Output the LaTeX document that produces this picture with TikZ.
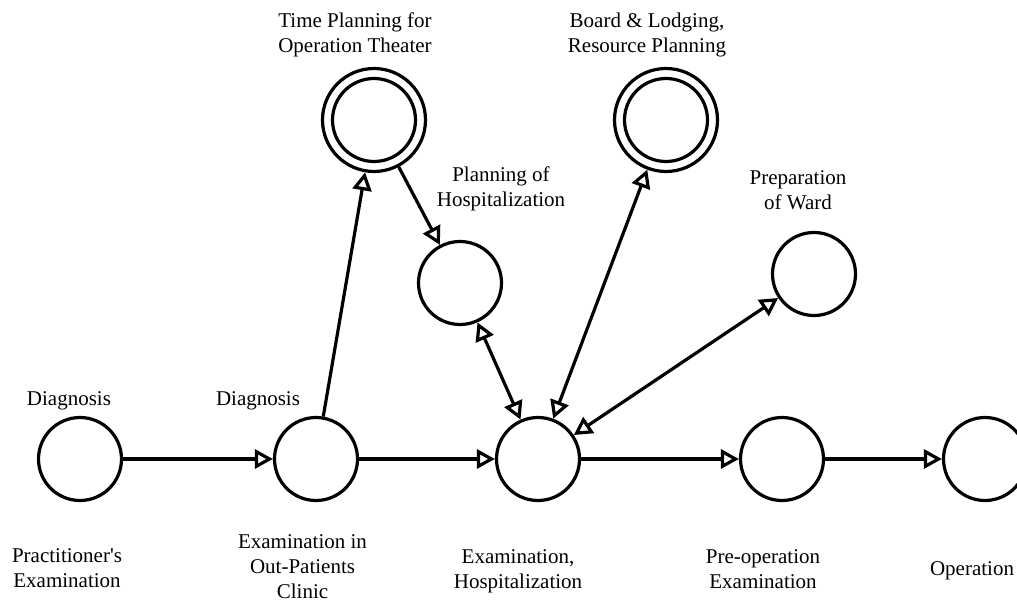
\documentclass[tikz,border=0pt]{standalone}
\usepackage{fontspec}
\setmainfont{Liberation Serif}
\usetikzlibrary{arrows.meta}
\begin{document}
\begin{tikzpicture}[x=1pt,y=-1pt,
  state/.style={circle, draw, line width=3.2pt, minimum size=83pt, inner sep=0pt},
  outerstate/.style={circle, draw, line width=3.2pt, minimum size=103pt, inner sep=0pt},
  lbl/.style={font=\fontsize{21}{25}\selectfont, align=center, inner sep=0pt, anchor=north},
  tip/.style={Triangle[open, length=18pt, width=19pt]},
  conn/.style={line width=3.2pt, -{Triangle[open, length=18pt, width=19pt]}},
  conntwo/.style={line width=3.2pt, {Triangle[open, length=18pt, width=19pt]}-{Triangle[open, length=18pt, width=19pt]}}]
\useasboundingbox (0,0) rectangle (1017,601);
\clip (0,0) rectangle (1017,601);
% bottom row
\node[state] (a) at (80,459) {};
\node[state] (b) at (316,459) {};
\node[state] (c) at (538,459) {};
\node[state] (d) at (782,459) {};
\node[state] (e) at (985,459) {};
% upper nodes
\node[outerstate] (tp) at (374,120) {};
\node[state] (tpin) at (374,120) {};
\node[outerstate] (bl) at (666,120) {};
\node[state] (blin) at (666,120) {};
\node[state] (ph) at (460,283) {};
\node[state] (pw) at (814,274) {};
% labels
\node[lbl] (la1) at (69,391) {Diagnosis};
\node[lbl] (lb1) at (258,391) {Diagnosis};
\node[lbl] (la2) at (67,548.5) {Practitioner\textquotesingle s\\Examination};
\node[lbl] (lb2) at (302.5,534) {Examination in\\Out-Patients\\Clinic};
\node[lbl] (lc2) at (518,549) {Examination,\\Hospitalization};
\node[lbl] (ld2) at (763,549) {Pre-operation\\Examination};
\node[lbl] (le2) at (972,561) {Operation};
\node[lbl] (ltp) at (355,13) {Time Planning for\\Operation Theater};
\node[lbl] (lbl) at (647,13) {Board \& Lodging,\\Resource Planning};
\node[lbl] (lph) at (501,167) {Planning of\\Hospitalization};
\node[lbl] (lpw) at (798,170) {Preparation\\of Ward};
% connectors
\draw[conn] (a) -- (b);
\draw[conn] (b) -- (c);
\draw[conn] (c) -- (d);
\draw[conn] (d) -- (e);
\draw[conn] (b) -- (tp);
\draw[conn] (tp) -- (ph);
\draw[conntwo] (ph) -- (c);
\draw[conntwo] (c) -- (bl);
\draw[conntwo] (c) -- (pw);
\end{tikzpicture}
\end{document}
